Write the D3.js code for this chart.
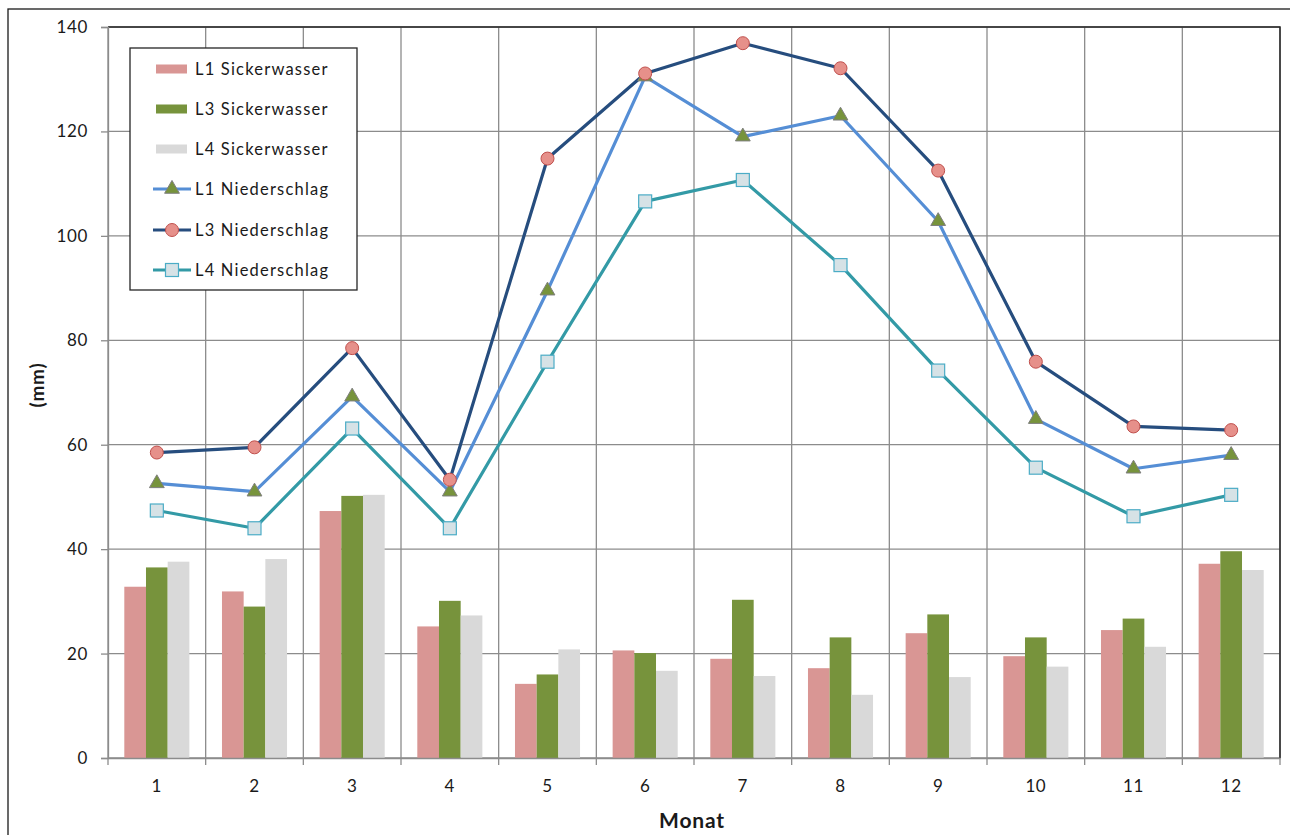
<!DOCTYPE html>
<html>
<head>
<meta charset="utf-8">
<script src="https://cdn.jsdelivr.net/npm/d3@7"></script>
<style>
  html, body { margin: 0; padding: 0; background: #fff; }
  svg { display: block; font-family: Lato, "Liberation Sans", sans-serif; }
</style>
</head>
<body>
<svg id="chart" width="1290" height="835"></svg>
<script>
// Monthly values (mm)
const months = ["1","2","3","4","5","6","7","8","9","10","11","12"];
const yTicks = [0, 20, 40, 60, 80, 100, 120, 140];

const barSeries = ["L1 Sickerwasser", "L3 Sickerwasser", "L4 Sickerwasser"];
const l1Sicker = [32.8, 31.9, 47.3, 25.2, 14.2, 20.6, 19.0, 17.2, 23.9, 19.5, 24.5, 37.2];
const l3Sicker = [36.5, 29.0, 50.2, 30.1, 16.0, 20.1, 30.3, 23.1, 27.5, 23.1, 26.7, 39.6];
const l4Sicker = [37.6, 38.1, 50.4, 27.3, 20.8, 16.7, 15.7, 12.1, 15.5, 17.5, 21.3, 36.0];

const lineSeries = ["L1 Niederschlag", "L3 Niederschlag", "L4 Niederschlag"];
const l1Nieder = [52.6, 51.0, 69.2, 51.0, 89.5, 130.5, 119.0, 123.0, 102.8, 64.9, 55.4, 58.0];
const l3Nieder = [58.5, 59.5, 78.5, 53.3, 114.8, 131.1, 136.9, 132.1, 112.5, 75.9, 63.5, 62.8];
const l4Nieder = [47.4, 44.0, 63.1, 44.0, 75.9, 106.6, 110.7, 94.4, 74.2, 55.6, 46.3, 50.4];

const barColors = ["#d99694", "#77933c", "#d9d9d9"];
const lineColors = ["#558ed5", "#264d7e", "#339aa6"];

const svg = d3.select("#chart");
const plot = { left: 108, right: 1280, top: 27, bottom: 758 };

// outer chart frame
svg.append("rect").attr("x", 8).attr("y", 9).attr("width", 1400).attr("height", 900)
  .attr("fill", "none").attr("stroke", "#1a1a1a").attr("stroke-width", 1.3);

const x = d3.scaleBand().domain(months).range([plot.left, plot.right]).padding(0);
const y = d3.scaleLinear().domain([0, 140]).range([plot.bottom, plot.top]);
const bw = x.bandwidth();
const xInner = d3.scaleBand().domain(barSeries).range([bw * 0.167, bw * 0.833]).padding(0);

// gridlines
const grid = svg.append("g").attr("stroke", "#8c8c8c").attr("stroke-width", 1.3);
grid.selectAll("line.h").data(yTicks).join("line")
  .attr("x1", plot.left).attr("x2", plot.right)
  .attr("y1", d => y(d)).attr("y2", d => y(d));
const bounds = months.map(m => x(m)).concat([plot.right]);
grid.selectAll("line.v").data(bounds).join("line")
  .attr("x1", d => d).attr("x2", d => d)
  .attr("y1", plot.top).attr("y2", plot.bottom + 7);

// plot area border (top and right)
svg.append("path")
  .attr("d", `M${plot.left},${plot.top}H${plot.right}V${plot.bottom}`)
  .attr("fill", "none").attr("stroke", "#262626").attr("stroke-width", 1.5);

// bars
const barData = [l1Sicker, l3Sicker, l4Sicker];
barSeries.forEach((name, si) => {
  svg.append("g").selectAll("rect").data(barData[si]).join("rect")
    .attr("x", (d, i) => x(months[i]) + xInner(name))
    .attr("width", xInner.bandwidth())
    .attr("y", d => y(d))
    .attr("height", d => y(0) - y(d))
    .attr("fill", barColors[si]);
});

// axes
const yAxis = svg.append("g").attr("transform", `translate(${plot.left},0)`)
  .call(d3.axisLeft(y).tickValues(yTicks).tickSize(7).tickPadding(13));
yAxis.select(".domain").attr("stroke", "#8c8c8c").attr("stroke-width", 1.3);
yAxis.selectAll(".tick line").attr("stroke", "#8c8c8c").attr("stroke-width", 1.3);
yAxis.selectAll("text").attr("font-size", 17).attr("fill", "#1a1a1a")
  .attr("letter-spacing", "0.6px").attr("font-family", "Lato, sans-serif");

const xAxis = svg.append("g").attr("transform", `translate(0,${plot.bottom})`)
  .call(d3.axisBottom(x).tickSize(0).tickPadding(22));
xAxis.select(".domain").attr("stroke", "#8c8c8c").attr("stroke-width", 1.3);
xAxis.selectAll("text").attr("font-size", 17).attr("fill", "#1a1a1a")
  .attr("letter-spacing", "0.6px").attr("font-family", "Lato, sans-serif");

// precipitation lines
const lineData = [l1Nieder, l3Nieder, l4Nieder];
const cx = i => x(months[i]) + bw / 2;
const lineGen = d3.line().x((d, i) => cx(i)).y(d => y(d));

function drawMarker(g, kind, px, py) {
  if (kind === 0) {
    g.append("path")
      .attr("d", d3.symbol().type(d3.symbolTriangle).size(95)())
      .attr("transform", `translate(${px},${py})`)
      .attr("fill", "#77933c").attr("stroke", "#7f7f7f").attr("stroke-width", 1);
  } else if (kind === 1) {
    g.append("circle").attr("cx", px).attr("cy", py).attr("r", 6.5)
      .attr("fill", "#e6908a").attr("stroke", "#c0504d").attr("stroke-width", 1);
  } else {
    g.append("rect").attr("x", px - 6.5).attr("y", py - 6.5).attr("width", 13).attr("height", 13)
      .attr("fill", "#d6e2e6").attr("stroke", "#4bacc6").attr("stroke-width", 1.2);
  }
}

[2, 0, 1].forEach(si => {
  const g = svg.append("g");
  g.append("path").datum(lineData[si]).attr("d", lineGen)
    .attr("fill", "none").attr("stroke", lineColors[si]).attr("stroke-width", 3.2)
    .attr("stroke-linejoin", "round");
});
[2, 0, 1].forEach(si => {
  const g = svg.append("g");
  lineData[si].forEach((v, i) => drawMarker(g, si, cx(i), y(v)));
});

// legend
const lg = svg.append("g");
lg.append("rect").attr("x", 130).attr("y", 48).attr("width", 227).attr("height", 242)
  .attr("fill", "#fff").attr("stroke", "#262626").attr("stroke-width", 1.3);
const rowY = [69, 109, 149, 189, 230, 270];
barSeries.forEach((name, i) => {
  lg.append("rect").attr("x", 156).attr("y", rowY[i] - 4.5).attr("width", 31).attr("height", 9)
    .attr("fill", barColors[i]);
  lg.append("text").attr("x", 195).attr("y", rowY[i]).attr("dy", "0.35em")
    .attr("font-size", 16.5).attr("letter-spacing", "1.2px").attr("fill", "#1a1a1a").text(name);
});
lineSeries.forEach((name, i) => {
  const ry = rowY[i + 3];
  lg.append("line").attr("x1", 153).attr("x2", 191).attr("y1", ry).attr("y2", ry)
    .attr("stroke", lineColors[i]).attr("stroke-width", 3.2);
  drawMarker(lg, i, 172, ry);
  lg.append("text").attr("x", 195).attr("y", ry).attr("dy", "0.35em")
    .attr("font-size", 16.5).attr("letter-spacing", "1.2px").attr("fill", "#1a1a1a").text(name);
});

// axis titles
svg.append("text").attr("transform", `translate(44,385) rotate(-90)`)
  .attr("text-anchor", "middle").attr("font-size", 19).attr("font-weight", "bold")
  .attr("letter-spacing", "0.8px").attr("fill", "#1a1a1a").text("(mm)");
svg.append("text").attr("x", 692).attr("y", 828)
  .attr("text-anchor", "middle").attr("font-size", 21).attr("font-weight", "bold")
  .attr("letter-spacing", "0.8px").attr("fill", "#1a1a1a").text("Monat");
</script>
</body>
</html>
